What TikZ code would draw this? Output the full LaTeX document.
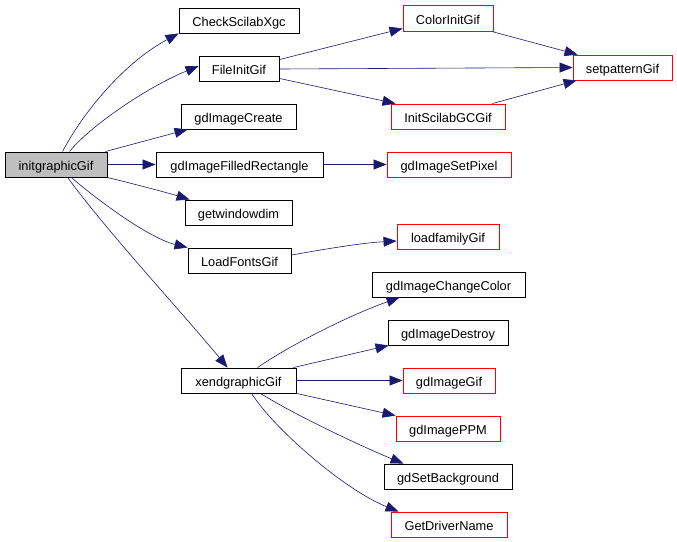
\documentclass[tikz,border=0pt]{standalone}
\usepackage{fontspec}
\setmainfont{Liberation Sans}
\usetikzlibrary{arrows.meta}
\definecolor{edgecol}{HTML}{191970}
\definecolor{grayfill}{HTML}{BFBFBF}
\tikzset{
  box/.style={draw=black, line width=0.9pt, inner sep=0pt, minimum height=25pt, text height=11pt, text depth=0pt, font=\fontsize{12.8}{14}\selectfont},
  rbox/.style={box, draw=red},
  edge/.style={draw=edgecol, line width=0.6pt, -{Triangle[length=13pt,width=10pt]}},
}
\begin{document}
\begin{tikzpicture}[x=1pt,y=-1pt]
\useasboundingbox[fill=white] (0,0) rectangle (677,541);
% nodes
\node[box, fill=grayfill, minimum width=102pt] (init) at (56,164.5) {initgraphicGif};
\node[box, minimum width=120pt] (check) at (239,20.5) {CheckScilabXgc};
\node[box, minimum width=80pt] (fileinit) at (239,69) {FileInitGif};
\node[box, minimum width=115pt] (create) at (238.5,116.5) {gdImageCreate};
\node[box, minimum width=167pt] (filled) at (239.5,164.5) {gdImageFilledRectangle};
\node[box, minimum width=107pt] (getwin) at (238.5,212.5) {getwindowdim};
\node[box, minimum width=103pt] (loadfonts) at (239.5,260.5) {LoadFontsGif};
\node[box, minimum width=115pt] (xend) at (238.5,380.5) {xendgraphicGif};
\node[rbox, minimum width=90pt, minimum height=26pt] (colorinit) at (448,18.5) {ColorInitGif};
\node[rbox, minimum width=99pt] (setpattern) at (622.5,67.5) {setpatternGif};
\node[rbox, minimum width=114pt] (initscilab) at (448,116.5) {InitScilabGCGif};
\node[rbox, minimum width=124pt] (setpixel) at (449,164.5) {gdImageSetPixel};
\node[rbox, minimum width=102pt] (loadfamily) at (448,236.5) {loadfamilyGif};
\node[box, minimum width=153pt] (changecolor) at (448.5,284.5) {gdImageChangeColor};
\node[box, minimum width=120pt] (destroy) at (448,332.5) {gdImageDestroy};
\node[rbox, minimum width=92pt] (gif) at (449,380.5) {gdImageGif};
\node[rbox, minimum width=104pt] (ppm) at (448,428.5) {gdImagePPM};
\node[box, minimum width=128pt] (setbg) at (448,476.5) {gdSetBackground};
\node[rbox, minimum width=116pt] (getdriver) at (449,524.5) {GetDriverName};
% edges from initgraphicGif
\draw[edge] ([xshift=58pt]init.north west) .. controls (80,118) and (120,65) .. (check.south west);
\draw[edge] ([xshift=65pt]init.north west) .. controls (88,128) and (145,88) .. ([yshift=-10pt]fileinit.north west);
\draw[edge] ([xshift=-2pt]init.north east) -- ([xshift=7pt]create.south west);
\draw[edge] (init.east) -- (filled.west);
\draw[edge] (init.south east) .. controls (130,183) and (165,192) .. ([xshift=5pt]getwin.north west);
\draw[edge] ([xshift=67pt]init.south west) .. controls (85,190) and (145,237) .. (loadfonts.north west);
\draw[edge] ([xshift=63pt]init.south west) .. controls (110,235) and (180,310) .. ([xshift=47pt]xend.north west);
% FileInitGif
\draw[edge] ([yshift=-3.5pt]fileinit.north east) -- ([yshift=3.5pt]colorinit.south west);
\draw[edge] (fileinit.east) -- (setpattern.west);
\draw[edge] ([yshift=3.5pt]fileinit.south east) -- ([xshift=5pt]initscilab.north west);
\draw[edge] (colorinit.south east) -- ([xshift=5pt]setpattern.north west);
\draw[edge] ([xshift=-13pt]initscilab.north east) -- ([xshift=4pt]setpattern.south west);
% others
\draw[edge] (filled.east) -- (setpixel.west);
\draw[edge] ([yshift=5.5pt]loadfonts.east) .. controls (320,250) and (360,243) .. ([yshift=-4.5pt]loadfamily.west);
% xendgraphicGif
\draw[edge] ([xshift=77pt]xend.north west) .. controls (290,345) and (350,315) .. ([xshift=28pt]changecolor.south west);
\draw[edge] ([xshift=-3pt]xend.north east) -- ([xshift=1pt]destroy.south west);
\draw[edge] (xend.east) -- (gif.west);
\draw[edge] (xend.south east) -- (ppm.north west);
\draw[edge] ([xshift=80pt]xend.south west) .. controls (300,418) and (370,450) .. ([xshift=20pt]setbg.north west);
\draw[edge] ([xshift=71pt]xend.south west) .. controls (275,430) and (345,490) .. ([xshift=8pt]getdriver.north west);
\end{tikzpicture}
\end{document}
